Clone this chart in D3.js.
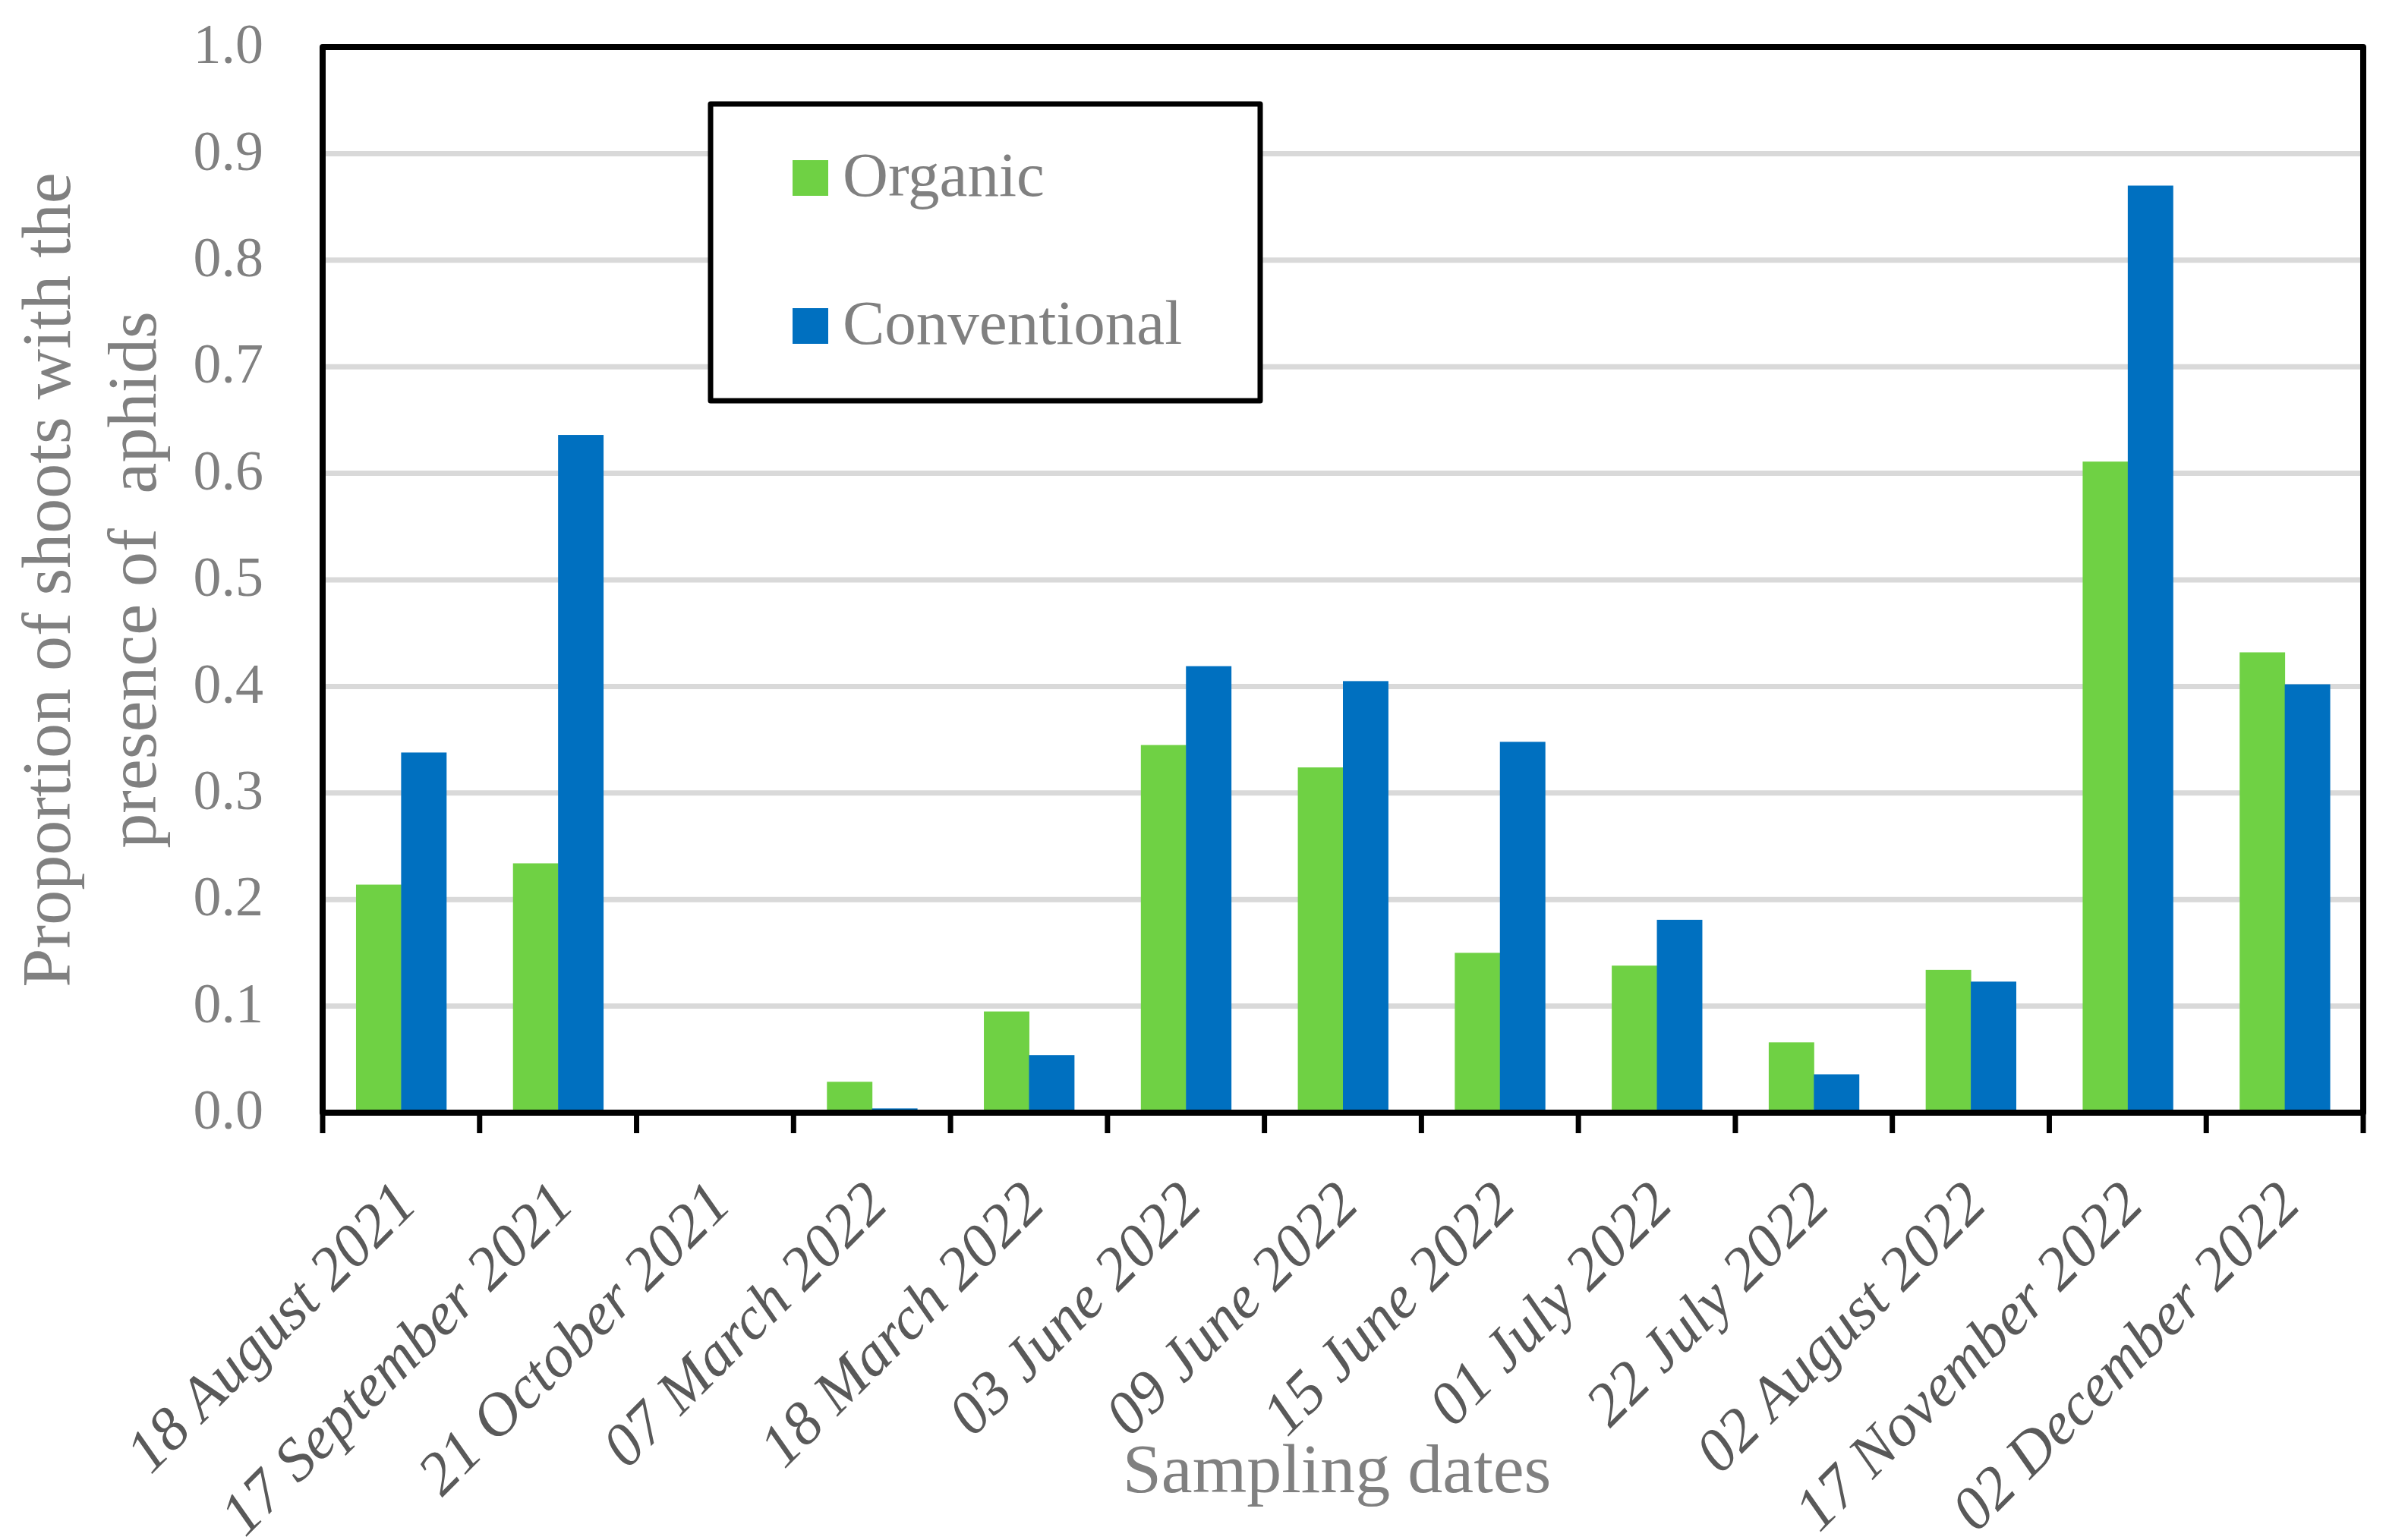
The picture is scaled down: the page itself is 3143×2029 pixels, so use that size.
<!DOCTYPE html>
<html>
<head>
<meta charset="utf-8">
<script src="https://cdn.jsdelivr.net/npm/d3@7"></script>
<style>
  body { margin: 0; background: #ffffff; }
  svg { display: block; }
</style>
</head>
<body>
<div id="chart"></div>
<script>
// sampling dates (categories)
var dates = ["18 August 2021", "17 September 2021", "21 October 2021", "07 March 2022",
    "18 March 2022", "03 June 2022", "09 June 2022", "15 June 2022", "01 July 2022",
    "22 July 2022", "02 August 2022", "17 November 2022", "02 December 2022"];

// proportion of shoots with aphids
var organic = [0.214, 0.234, 0, 0.029, 0.095, 0.345, 0.324, 0.150, 0.138, 0.066, 0.134, 0.611, 0.432];
var conventional = [0.338, 0.636, 0, 0.004, 0.054, 0.419, 0.405, 0.348, 0.181, 0.036, 0.123, 0.870, 0.402];

var seriesNames = ["Organic", "Conventional"];
var seriesColors = ["#6fd144", "#0070c0"];
var yTicks = [0, 0.1, 0.2, 0.3, 0.4, 0.5, 0.6, 0.7, 0.8, 0.9, 1.0];

var W = 3143, H = 2029;
var plot = { left: 425, right: 3113, top: 62, bottom: 1466 };
var serif = "'Palatino Linotype', 'Book Antiqua', Palatino, 'Liberation Serif', serif";

var svg = d3.select("#chart")
    .append("svg")
    .attr("width", W)
    .attr("height", H);

// x, one band per sampling date
var x = d3.scaleBand()
    .domain(dates)
    .range([plot.left, plot.right])
    .padding(0);

// inner band for the two series (gap width ~75%)
var xs = d3.scaleBand()
    .domain(seriesNames)
    .range([0, x.bandwidth()])
    .paddingInner(0)
    .paddingOuter(0.74);

var y = d3.scaleLinear()
    .domain([0, 1])
    .range([plot.bottom, plot.top]);

// gridlines
svg.append("g")
    .selectAll("line")
    .data(yTicks.filter(function(d) { return d > 0 && d < 1; }))
    .enter()
    .append("line")
    .attr("x1", plot.left)
    .attr("x2", plot.right)
    .attr("y1", function(d) { return y(d); })
    .attr("y2", function(d) { return y(d); })
    .attr("stroke", "#d9d9d9")
    .attr("stroke-width", 7);

// bars
var rows = dates.map(function(d, i) {
    return { date: d, values: [organic[i], conventional[i]] };
});

var groups = svg.append("g")
    .selectAll("g")
    .data(rows)
    .enter()
    .append("g")
    .attr("transform", function(d) { return "translate(" + x(d.date) + ",0)"; });

groups.selectAll("rect")
    .data(function(d) {
        return d.values.map(function(v, j) { return { name: seriesNames[j], value: v, idx: j }; });
    })
    .enter()
    .append("rect")
    .attr("x", function(d) { return xs(d.name); })
    .attr("width", xs.bandwidth() + 0.5)
    .attr("y", function(d) { return y(d.value); })
    .attr("height", function(d) { return y(0) - y(d.value); })
    .attr("fill", function(d) { return seriesColors[d.idx]; });

// plot frame
svg.append("rect")
    .attr("x", plot.left)
    .attr("y", plot.top)
    .attr("width", plot.right - plot.left)
    .attr("height", plot.bottom - plot.top)
    .attr("fill", "none")
    .attr("stroke", "#000")
    .attr("stroke-width", 8)
    .attr("stroke-linejoin", "round");

// x ticks at category boundaries
var tickPos = dates.map(function(d) { return x(d); }).concat([x(dates[dates.length - 1]) + x.bandwidth()]);
svg.append("g")
    .selectAll("line")
    .data(tickPos)
    .enter()
    .append("line")
    .attr("x1", function(d) { return d; })
    .attr("x2", function(d) { return d; })
    .attr("y1", plot.bottom)
    .attr("y2", plot.bottom + 27)
    .attr("stroke", "#000")
    .attr("stroke-width", 7);

// y tick labels
var yAxis = d3.axisLeft(y)
    .tickValues(yTicks)
    .tickSize(0)
    .tickPadding(0)
    .tickFormat(d3.format(".1f"));

var yg = svg.append("g")
    .attr("transform", "translate(347,0)")
    .call(yAxis);
yg.select(".domain").remove();
yg.selectAll("text")
    .attr("font-family", serif)
    .attr("font-size", 74)
    .attr("fill", "#808080")
    .attr("dy", "0.28em");

// x tick labels, rotated
svg.append("g")
    .selectAll("text")
    .data(dates)
    .enter()
    .append("text")
    .attr("transform", function(d) {
        return "translate(" + (x(d) + x.bandwidth() / 2 + 24) + "," + 1590 + ") rotate(-45)";
    })
    .attr("text-anchor", "end")
    .attr("font-family", serif)
    .attr("font-style", "italic")
    .attr("font-size", 80)
    .attr("fill", "#595959")
    .text(function(d) { return d; });

// x axis title
svg.append("text")
    .attr("x", (plot.left + plot.right) / 2 - 8)
    .attr("y", 1966)
    .attr("text-anchor", "middle")
    .attr("font-family", serif)
    .attr("font-size", 92)
    .attr("fill", "#808080")
    .text("Sampling dates");

// y axis title, two lines
var yTitle = svg.append("text")
    .attr("transform", "translate(92," + ((plot.top + plot.bottom) / 2) + ") rotate(-90)")
    .attr("text-anchor", "middle")
    .attr("font-family", serif)
    .attr("font-size", 92)
    .attr("fill", "#808080");
yTitle.append("tspan")
    .attr("x", 0)
    .attr("y", 0)
    .text("Proportion of shoots with the");
yTitle.append("tspan")
    .attr("x", 0)
    .attr("y", 113)
    .attr("xml:space", "preserve")
    .style("white-space", "pre")
    .text("presence of  aphids");

// legend
var legend = svg.append("g");
legend.append("rect")
    .attr("x", 936)
    .attr("y", 137)
    .attr("width", 1660 - 936)
    .attr("height", 528 - 137)
    .attr("fill", "#ffffff")
    .attr("stroke", "#000")
    .attr("stroke-width", 7)
    .attr("stroke-linejoin", "round");

var legendY = [211, 406];
seriesNames.forEach(function(name, i) {
    legend.append("rect")
        .attr("x", 1044)
        .attr("y", legendY[i])
        .attr("width", 47)
        .attr("height", 47)
        .attr("fill", seriesColors[i]);
    legend.append("text")
        .attr("x", 1110)
        .attr("y", legendY[i] + 47)
        .attr("font-family", serif)
        .attr("font-size", 83)
        .attr("fill", "#808080")
        .text(name);
});
</script>
</body>
</html>
